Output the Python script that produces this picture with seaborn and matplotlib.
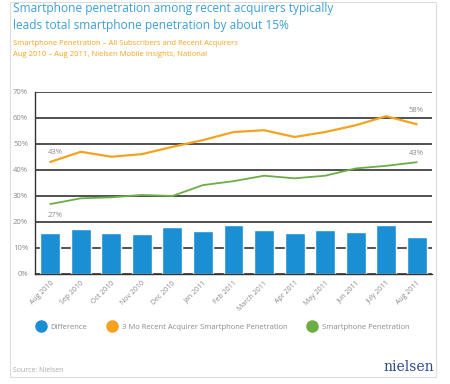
import matplotlib
matplotlib.use("Agg")
import matplotlib.pyplot as plt
from matplotlib.lines import Line2D
from matplotlib.patches import Rectangle
import numpy as np
import pandas as pd
import seaborn as sns

months = ['Aug 2010', 'Sep 2010', 'Oct 2010', 'Nov 2010', 'Dec 2010', 'Jan 2011', 'Feb 2011',
          'March 2011', 'Apr 2011', 'May 2011', 'Jun 2011', 'July 2011', 'Aug 2011']
difference = [15.7, 17.4, 15.7, 15.3, 18.0, 16.6, 18.8, 17.1, 15.8, 17.0, 16.1, 18.8, 14.4]
recent_acquirer = [43.1, 47.0, 45.1, 46.1, 48.9, 51.5, 54.6, 55.3, 52.7, 54.6, 57.2, 60.7, 57.6]
smartphone_pen = [26.9, 29.1, 29.5, 30.4, 30.0, 34.2, 35.7, 37.8, 36.8, 37.8, 40.6, 41.6, 43.0]
y_ticks = [0, 10, 20, 30, 40, 50, 60, 70]

BLUE = '#1a8fd4'
ORANGE = '#f5a21e'
GREEN = '#6cae45'
TITLE_BLUE = '#3d9fd6'
GRAY = '#8a8a8a'

df = pd.DataFrame({'month': months, 'pos': range(len(months)), 'diff': difference,
                   'acq': recent_acquirer, 'pen': smartphone_pen})

sns.set_style('white')
plt.rcParams['font.family'] = ['Open Sans', 'DejaVu Sans']

fig = plt.figure(figsize=(4.5, 3.84), dpi=100)
fig.patches.append(Rectangle((10 / 450, 1 - 377 / 384), 426 / 450, 375 / 384, transform=fig.transFigure,
                             fill=False, edgecolor='#dddddd', linewidth=0.8))

ax = fig.add_axes([35 / 450, 1 - 274 / 384, 397 / 450, 182 / 384])
ax.set_axisbelow(True)
ax.yaxis.grid(True, color='#333333', linewidth=1.2)

sns.barplot(data=df, x='pos', y='diff', color=BLUE, width=0.65, saturation=1, ax=ax, native_scale=True)
sns.lineplot(data=df, x='pos', y='acq', color=ORANGE, linewidth=1.6, ax=ax)
sns.lineplot(data=df, x='pos', y='pen', color=GREEN, linewidth=1.3, ax=ax)

ax.set_xlim(-0.5, len(months) - 0.5)
ax.set_ylim(0, 70)
ax.set_yticks(y_ticks)
ax.set_yticklabels([f'{v}%' for v in y_ticks], fontsize=5.5, color=GRAY)
ax.set_xticks(range(len(months)))
ax.set_xticklabels(months, rotation=45, ha='right', rotation_mode='anchor', fontsize=5, color=GRAY)
ax.set_xticks(np.arange(-0.5, len(months)), minor=True)
ax.tick_params(axis='x', which='major', length=0, pad=4)
ax.tick_params(axis='x', which='minor', length=3, color='#333333')
ax.tick_params(axis='y', length=3, color='#333333', pad=2)
ax.set_xlabel('')
ax.set_ylabel('')
for s in ['top', 'right']:
    ax.spines[s].set_visible(False)
for s in ['left', 'bottom']:
    ax.spines[s].set_color('#333333')
    ax.spines[s].set_linewidth(1.0)

lab = dict(fontsize=5.5, color=GRAY)
ax.annotate(f'{recent_acquirer[0]:.0f}%', (0, recent_acquirer[0]), xytext=(-2, 6), textcoords='offset points', **lab)
ax.annotate(f'{smartphone_pen[0]:.0f}%', (0, smartphone_pen[0]), xytext=(-2, -9), textcoords='offset points', **lab)
ax.annotate(f'{recent_acquirer[-1]:.0f}%', (12, recent_acquirer[-1]), xytext=(-6, 9), textcoords='offset points', **lab)
ax.annotate(f'{smartphone_pen[-1]:.0f}%', (12, smartphone_pen[-1]), xytext=(-6, 5), textcoords='offset points', **lab)

fig.text(13 / 450, 1 - 2 / 384, 'Smartphone penetration among recent acquirers typically\n'
         'leads total smartphone penetration by about 15%', fontsize=8.6, color=TITLE_BLUE,
         va='top', linespacing=1.35)
fig.text(13 / 450, 1 - 43.5 / 384, 'Smartphone Penetration \u2013 All Subscribers and Recent Acquirers',
         fontsize=5.5, color=ORANGE, va='center')
fig.text(13 / 450, 1 - 55 / 384, 'Aug 2010 \u2013 Aug 2011, Nielsen Mobile Insights, National',
         fontsize=5.5, color=ORANGE, va='center')

handles = [Line2D([], [], marker='o', linestyle='', markersize=8, color=c) for c in [BLUE, ORANGE, GREEN]]
fig.legend(handles, ['Difference', '3 Mo Recent Acquirer Smartphone Penetration', 'Smartphone Penetration'],
           loc='center left', bbox_to_anchor=(26 / 450, 1 - 327 / 384), ncol=3, frameon=False, fontsize=5.5,
           labelcolor=GRAY, handletextpad=0.3, columnspacing=2.2)

fig.text(13 / 450, 1 - 370 / 384, 'Source: Nielsen', fontsize=5, color='#aaaaaa', va='center')
fig.text(434 / 450, 1 - 367 / 384, 'nielsen', fontsize=10, color='#2a4a8a', va='center', ha='right',
         family='DejaVu Serif')

fig.savefig('out.png', dpi=100)
